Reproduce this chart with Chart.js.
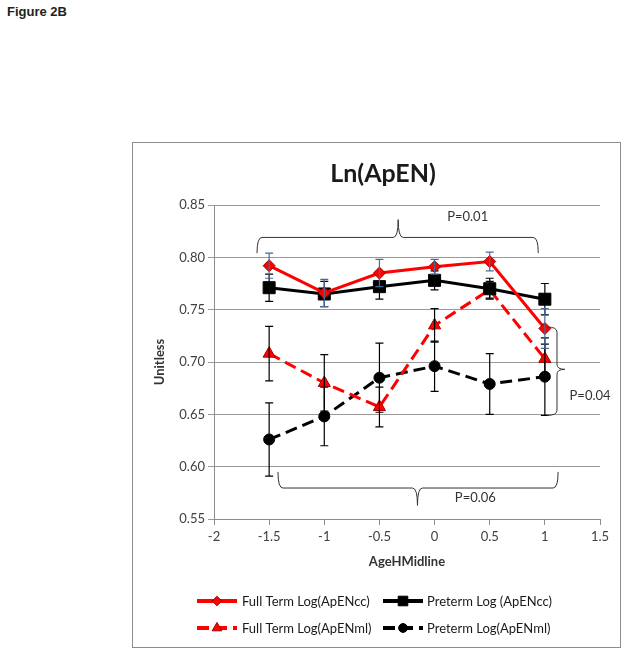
<!DOCTYPE html>
<html>
<head>
<meta charset="utf-8">
<script src="https://cdn.jsdelivr.net/npm/chart.js@4.4.0/dist/chart.umd.min.js"></script>
<style>
    body { margin: 0; background: #fff; width: 632px; height: 656px; position: relative; }
    #fig { position: absolute; left: 7px; top: 4px; font: bold 13px 'Liberation Sans', Arial, sans-serif; color: #222; }
    #frame { position: absolute; left: 132px; top: 142px; width: 487px; height: 504px; border: 1px solid #8c8c8c; }
    #frame canvas { display: block; }
</style>
</head>
<body>
<div id="fig">Figure 2B</div>
<div id="frame"><canvas id="apenChart" width="487" height="504"></canvas></div>
<script>
// --- datos ---
const ageX = [-1.5, -1, -0.5, 0, 0.5, 1];

const fullTermCc = [0.792, 0.766, 0.785, 0.791, 0.796, 0.732];
const pretermCc  = [0.771, 0.765, 0.772, 0.778, 0.770, 0.760];
const fullTermMl = [0.708, 0.680, 0.657, 0.735, 0.769, 0.703];
const pretermMl  = [0.626, 0.648, 0.685, 0.696, 0.679, 0.686];

const fullTermCcErr = [0.012, 0.013, 0.013, 0.007, 0.009, 0.019];
const pretermCcErr  = [0.013, 0.012, 0.012, 0.009, 0.010, 0.015];
const fullTermMlErr = [0.026, 0.027, 0.019, 0.016, 0.008, 0.014];
const pretermMlErr  = [0.035, 0.028, 0.033, 0.024, 0.029, 0.037];

const seriesNames = [
    'Full Term Log(ApENcc)',
    'Preterm Log (ApENcc)',
    'Full Term Log(ApENml)',
    'Preterm Log(ApENml)'
];
const pLabels = ['P=0.01', 'P=0.04', 'P=0.06'];

const FONT = "Lato, 'Liberation Sans', sans-serif";

function toPoints(ys) {
    return ageX.map((x, i) => ({ x: x, y: ys[i] }));
}

// --- barras de error ---
const errorBarsPlugin = {
    id: 'errorBars',
    afterDatasetDraw(chart, args) {
        const ds = chart.data.datasets[args.index];
        if (!ds.errors) return;
        const ctx = chart.ctx;
        const xs = chart.scales.x, ys = chart.scales.y;
        ctx.save();
        ctx.strokeStyle = ds.errorColor || '#000';
        ctx.lineWidth = 1.2;
        ds.data.forEach((p, i) => {
            const px = xs.getPixelForValue(p.x);
            const top = ys.getPixelForValue(p.y + ds.errors[i]);
            const bot = ys.getPixelForValue(p.y - ds.errors[i]);
            ctx.beginPath();
            ctx.moveTo(px, top); ctx.lineTo(px, bot);
            ctx.moveTo(px - 4, top); ctx.lineTo(px + 4, top);
            ctx.moveTo(px - 4, bot); ctx.lineTo(px + 4, bot);
            ctx.stroke();
        });
        ctx.restore();
    }
};

// --- llaves, textos P, título y leyenda ---
function braceH(ctx, x1, x2, xm, y, yEnd, yTip) {
    const r = 5;
    ctx.beginPath();
    ctx.moveTo(x1, yEnd);
    ctx.quadraticCurveTo(x1, y, x1 + r, y);
    ctx.lineTo(xm - r, y);
    ctx.quadraticCurveTo(xm, y, xm, yTip);
    ctx.quadraticCurveTo(xm, y, xm + r, y);
    ctx.lineTo(x2 - r, y);
    ctx.quadraticCurveTo(x2, y, x2, yEnd);
    ctx.stroke();
}

function braceV(ctx, y1, y2, ym, x, xEnd, xTip) {
    const r = 5;
    ctx.beginPath();
    ctx.moveTo(xEnd, y1);
    ctx.quadraticCurveTo(x, y1, x, y1 + r);
    ctx.lineTo(x, ym - r);
    ctx.quadraticCurveTo(x, ym, xTip, ym);
    ctx.quadraticCurveTo(x, ym, x, ym + r);
    ctx.lineTo(x, y2 - r);
    ctx.quadraticCurveTo(x, y2, xEnd, y2);
    ctx.stroke();
}

function legendSample(ctx, ds, x1, x2, y) {
    ctx.save();
    ctx.strokeStyle = ds.borderColor;
    ctx.lineWidth = ds.borderWidth + 1;
    ctx.setLineDash(ds.borderDash || []);
    ctx.beginPath(); ctx.moveTo(x1, y); ctx.lineTo(x2, y); ctx.stroke();
    ctx.setLineDash([]);
    ctx.fillStyle = ds.pointBackgroundColor;
    ctx.strokeStyle = ds.pointBorderColor;
    ctx.lineWidth = ds.pointBorderWidth;
    Chart.helpers.drawPoint(ctx, {
        pointStyle: ds.pointStyle, radius: ds.pointRadius * 0.8, rotation: 0, borderWidth: ds.pointBorderWidth
    }, (x1 + x2) / 2, y);
    ctx.restore();
}

const annotationsPlugin = {
    id: 'annotations',
    afterDraw(chart) {
        const ctx = chart.ctx;
        const xs = chart.scales.x, ys = chart.scales.y;
        const X = v => xs.getPixelForValue(v);
        const Y = v => ys.getPixelForValue(v);
        ctx.save();

        // título
        ctx.fillStyle = '#1a1a1a';
        ctx.font = 'bold 25px ' + FONT;
        ctx.textAlign = 'center';
        ctx.textBaseline = 'middle';
        ctx.fillText('Ln(ApEN)', 250, 31);

        // llaves
        ctx.strokeStyle = '#333';
        ctx.lineWidth = 1;
        braceH(ctx, X(-1.61), X(0.94), X(-0.33), Y(0.819), Y(0.804), Y(0.836));
        braceH(ctx, X(-1.42), X(1.12), X(-0.155), Y(0.5796), Y(0.595), Y(0.563));
        braceV(ctx, Y(0.7334), Y(0.649), Y(0.693), X(1.11), X(1.02), X(1.18));

        ctx.fillStyle = '#333';
        ctx.font = '13px ' + FONT;
        ctx.fillText(pLabels[0], X(0.30), Y(0.839));
        ctx.fillText(pLabels[1], X(1.41), Y(0.6675));
        ctx.fillText(pLabels[2], X(0.37), Y(0.570));

        // leyenda
        const ds = chart.data.datasets;
        const rows = [458, 485];
        const cols = [[64, 104, 109], [250, 290, 294]];
        ctx.textAlign = 'left';
        ds.forEach((d, i) => {
            const row = rows[Math.floor(i / 2)];
            const col = cols[i % 2];
            legendSample(ctx, d, col[0], col[1], row);
            ctx.fillStyle = '#1a1a1a';
            ctx.font = '13px ' + FONT;
            ctx.fillText(d.label, col[2], row + 1);
        });
        ctx.restore();
    }
};

const ctx = document.getElementById('apenChart').getContext('2d');

new Chart(ctx, {
    type: 'line',
    data: {
        datasets: [{
            label: seriesNames[0],
            data: toPoints(fullTermCc),
            errors: fullTermCcErr,
            errorColor: '#4a6a96',
            borderColor: '#ff0000',
            borderWidth: 3,
            pointStyle: 'rectRot',
            pointRadius: 6,
            pointBackgroundColor: '#ff0000',
            pointBorderColor: '#a00000',
            pointBorderWidth: 1
        }, {
            label: seriesNames[1],
            data: toPoints(pretermCc),
            errors: pretermCcErr,
            borderColor: '#000000',
            borderWidth: 3,
            pointStyle: 'rect',
            pointRadius: 8.5,
            pointBackgroundColor: '#000000',
            pointBorderColor: '#000000',
            pointBorderWidth: 1
        }, {
            label: seriesNames[2],
            data: toPoints(fullTermMl),
            errors: fullTermMlErr,
            borderColor: '#ff0000',
            borderWidth: 3,
            borderDash: [12, 6],
            pointStyle: 'triangle',
            pointRadius: 7,
            pointBackgroundColor: '#ff0000',
            pointBorderColor: '#a00000',
            pointBorderWidth: 1
        }, {
            label: seriesNames[3],
            data: toPoints(pretermMl),
            errors: pretermMlErr,
            borderColor: '#000000',
            borderWidth: 3,
            borderDash: [12, 6],
            pointStyle: 'circle',
            pointRadius: 5.5,
            pointBackgroundColor: '#000000',
            pointBorderColor: '#000000',
            pointBorderWidth: 1
        }]
    },
    options: {
        responsive: false,
        animation: false,
        devicePixelRatio: 1,
        layout: { padding: { top: 62, right: 20, left: 0, bottom: 0 } },
        plugins: {
            legend: { display: false },
            tooltip: { enabled: false },
            title: { display: false }
        },
        scales: {
            x: {
                type: 'linear',
                min: -2,
                max: 1.5,
                ticks: {
                    stepSize: 0.5, color: '#404040', font: { size: 13, family: FONT }, padding: 4,
                    callback: v => String(Math.round(v * 10) / 10)
                },
                grid: { drawOnChartArea: false, drawTicks: true, tickLength: 6, color: '#8c8c8c' },
                border: { color: '#8c8c8c' },
                title: {
                    display: true, text: 'AgeHMidline', color: '#333',
                    font: { size: 13, weight: 'bold', family: FONT },
                    padding: { top: 0, bottom: 77 }
                },
                afterFit(scale) { scale.height = 128; }
            },
            y: {
                min: 0.55,
                max: 0.85,
                ticks: {
                    stepSize: 0.05, color: '#404040', font: { size: 13, family: FONT }, padding: 3,
                    callback: v => v.toFixed(2)
                },
                grid: { color: '#9a9a9a', tickLength: 6 },
                border: { color: '#8c8c8c' },
                title: {
                    display: true, text: 'Unitless', color: '#333',
                    font: { size: 13, weight: 'bold', family: FONT },
                    padding: { top: 19, bottom: 0 }
                },
                afterFit(scale) { scale.width = 81; }
            }
        }
    },
    plugins: [errorBarsPlugin, annotationsPlugin]
});
</script>
</body>
</html>
